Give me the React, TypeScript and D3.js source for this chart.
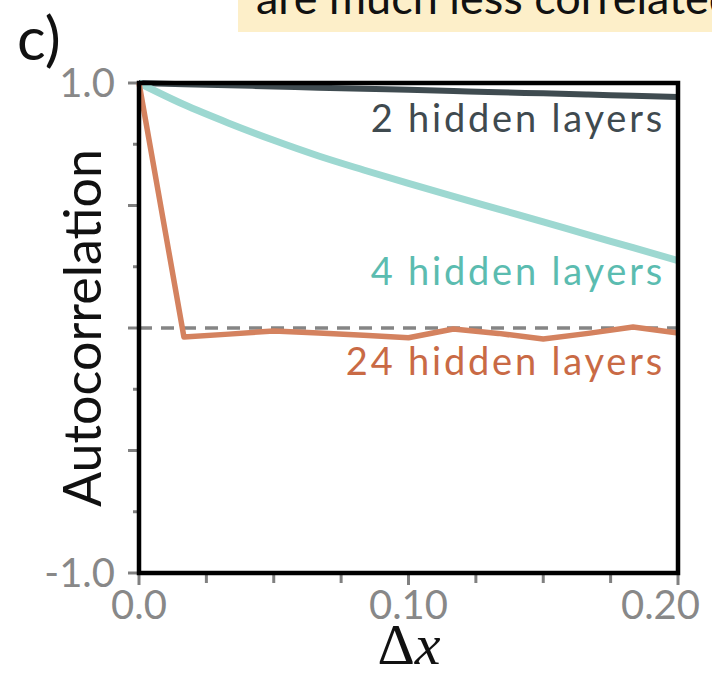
import React from "react";
import * as d3 from "d3";

const dxValues = [0, 1 / 60, 2 / 60, 3 / 60, 4 / 60, 5 / 60, 6 / 60, 7 / 60, 8 / 60, 9 / 60, 10 / 60, 11 / 60, 12 / 60];
const layers2 = [1.0, 0.995, 0.991, 0.986, 0.981, 0.977, 0.972, 0.967, 0.962, 0.958, 0.953, 0.948, 0.943];
const layers4 = [1.0, 0.912, 0.836, 0.766, 0.702, 0.645, 0.59, 0.537, 0.485, 0.433, 0.38, 0.328, 0.275];
const layers24 = [1.0, -0.037, -0.025, -0.012, -0.02, -0.03, -0.04, -0.004, -0.022, -0.045, -0.022, 0.004, -0.02];

const seriesNames = ["2 hidden layers", "4 hidden layers", "24 hidden layers"];
const yTicks = [-1, -0.75, -0.5, -0.25, 0, 0.25, 0.5, 0.75, 1];
const yTickLabels = [
  { v: 1, t: "1.0" },
  { v: -1, t: "-1.0" },
];
const xTicks = [0, 0.025, 0.05, 0.075, 0.1, 0.125, 0.15, 0.175, 0.2];
const xTickLabels = [
  { v: 0, t: "0.0" },
  { v: 0.1, t: "0.10" },
  { v: 0.2, t: "0.20" },
];

export default function App() {
  const x = d3.scaleLinear().domain([0, 0.2]).range([139, 678]);
  const y = d3.scaleLinear().domain([-1, 1]).range([573, 83]);
  const smooth = d3
    .line<number>()
    .x((_, i) => x(dxValues[i]))
    .y((d) => y(d))
    .curve(d3.curveMonotoneX);
  const straight = d3
    .line<number>()
    .x((_, i) => x(dxValues[i]))
    .y((d) => y(d));

  const sans = "Lato, 'Open Sans', sans-serif";
  const tickColor = "#888888";

  const series = [
    { data: layers2, stroke: "#3f4b50", text: "#3f4a4f", width: 6, label: seriesNames[0], ly: 132, gen: smooth },
    { data: layers4, stroke: "#9dd8d1", text: "#5bbcb0", width: 7, label: seriesNames[1], ly: 285, gen: smooth },
    { data: layers24, stroke: "#d4825f", text: "#c96a45", width: 5.5, label: seriesNames[2], ly: 375, gen: straight },
  ];

  return (
    <svg
      width={712}
      height={677}
      style={{ position: "absolute", left: 0, top: 0, background: "#fff" }}
    >
      <rect x={0} y={0} width={712} height={677} fill="#fff" />
      {/* banner */}
      <rect x={238} y={0} width={474} height={32} fill="#fdefc9" />
      <text x={256} y={14} fontFamily={sans} fontSize={45} fill="#111">
        are much less correlated
      </text>
      <text x={17} y={60} fontFamily={sans} fontSize={60} fill="#111">
        c)
      </text>

      {/* zero dashed line */}
      <line
        x1={x(0)}
        x2={x(0.2)}
        y1={y(0)}
        y2={y(0)}
        stroke="#858585"
        strokeWidth={3.5}
        strokeDasharray="13,9"
      />

      {/* y ticks */}
      {yTicks.map((t) => {
        const major = Math.abs((t * 2) % 1) < 1e-9;
        return (
          <line
            key={"yt" + t}
            x1={x(0) - (major ? 11 : 6)}
            x2={x(0)}
            y1={y(t)}
            y2={y(t)}
            stroke="#808080"
            strokeWidth={3}
          />
        );
      })}
      {yTickLabels.map((d) => (
        <text
          key={"yl" + d.t}
          x={115}
          y={y(d.v)}
          dy="0.36em"
          textAnchor="end"
          fontFamily={sans}
          fontSize={40}
          fill={tickColor}
        >
          {d.t}
        </text>
      ))}

      {/* x ticks */}
      {xTicks.map((t) => {
        const major = xTickLabels.some((l) => Math.abs(l.v - t) < 1e-9);
        return (
          <line
            key={"xt" + t}
            x1={x(t)}
            x2={x(t)}
            y1={y(-1)}
            y2={y(-1) + (major ? 12 : 10)}
            stroke="#808080"
            strokeWidth={3}
          />
        );
      })}
      {xTickLabels.map((d, i) => (
        <text
          key={"xl" + d.t}
          x={i === 2 ? 700 : x(d.v)}
          y={619}
          textAnchor={i === 2 ? "end" : "middle"}
          fontFamily={sans}
          fontSize={40}
          fill={tickColor}
        >
          {d.t}
        </text>
      ))}

      {/* series */}
      {series.map((s) => (
        <path
          key={s.label}
          d={s.gen(s.data) || ""}
          fill="none"
          stroke={s.stroke}
          strokeWidth={s.width}
          strokeLinejoin="round"
        />
      ))}
      {series.map((s) => (
        <text
          key={"lab" + s.label}
          x={665}
          y={s.ly}
          textAnchor="end"
          fontFamily={sans}
          fontSize={38}
          letterSpacing={2.8}
          fill={s.text}
        >
          {s.label}
        </text>
      ))}

      {/* frame */}
      <rect
        x={x(0)}
        y={y(1)}
        width={x(0.2) - x(0)}
        height={y(-1) - y(1)}
        fill="none"
        stroke="#000"
        strokeWidth={4.5}
      />

      {/* axis titles */}
      <text
        transform={`translate(101, ${y(0)}) rotate(-90)`}
        textAnchor="middle"
        fontFamily={sans}
        fontSize={52}
        fill="#111"
      >
        Autocorrelation
      </text>
      <text
        x={409}
        y={664}
        textAnchor="middle"
        fontFamily="'Liberation Serif', 'DejaVu Serif', serif"
        fontSize={58}
        fill="#111"
      >
        Δ<tspan fontStyle="italic">x</tspan>
      </text>
    </svg>
  );
}
